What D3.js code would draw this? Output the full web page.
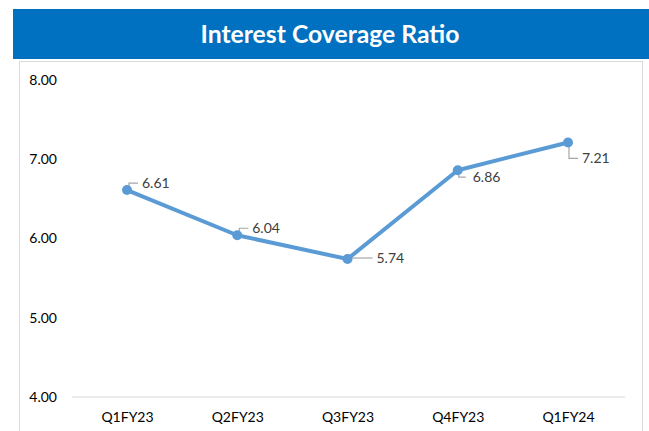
<!DOCTYPE html>
<html><head><meta charset="utf-8">
<script src="https://cdn.jsdelivr.net/npm/d3@7"></script>
<style>body{margin:0;background:#fff;}svg{display:block;font-family:Lato,"Open Sans",sans-serif;}</style>
</head><body>
<svg id="c" width="649" height="431"></svg>
<script>
const title = "Interest Coverage Ratio";
const categories = ["Q1FY23","Q2FY23","Q3FY23","Q4FY23","Q1FY24"];
const values = [6.61, 6.04, 5.74, 6.86, 7.21];
const yTicks = [4, 5, 6, 7, 8];
// label placement: "up" = leader up-right, "right" = straight, "down" = leader down-right
const labelPlacement = ["up","up","right","down","down"];

const svg = d3.select("#c");
svg.append("rect").attr("x",0).attr("y",0).attr("width",649).attr("height",431).attr("fill","#fff");
svg.append("rect").attr("x",13).attr("y",9).attr("width",636).attr("height",50).attr("fill","#0070c0");
const t = svg.append("text").attr("x",330).attr("y",43).attr("text-anchor","middle")
  .attr("fill","#fff").attr("font-weight","bold").attr("font-size",24).text(title);
const tw = t.node().getComputedTextLength();
t.attr("font-size", 24*259/tw);

svg.append("rect").attr("x",19.5).attr("y",61.5).attr("width",623).attr("height",380)
  .attr("fill","none").attr("stroke","#d9d9d9");

const x = d3.scalePoint().domain(categories).range([127, 568]);
const y = d3.scaleLinear().domain([4, 8]).range([397, 79.8]);

svg.append("line").attr("x1",72).attr("x2",625).attr("y1",y(4)).attr("y2",y(4))
  .attr("stroke","#d9d9d9").attr("stroke-width",1);

const yAxis = d3.axisLeft(y).tickValues(yTicks).tickFormat(d3.format(".2f")).tickSize(0).tickPadding(0);
const ga = svg.append("g").attr("transform","translate(57,0)").call(yAxis);
ga.select(".domain").remove();
ga.selectAll("text").attr("font-size",14).attr("fill","#000").attr("font-family","Lato");

const xAxis = d3.axisBottom(x).tickSize(0).tickPadding(0);
const gx = svg.append("g").attr("transform","translate(0,412)").call(xAxis);
gx.select(".domain").remove();
gx.selectAll("text").attr("font-size",14).attr("fill","#000").attr("font-family","Lato");

const data = categories.map((c,i)=>({c, v: values[i], p: labelPlacement[i]}));
svg.append("path").datum(data)
  .attr("d", d3.line().x(d=>x(d.c)).y(d=>y(d.v)))
  .attr("fill","none").attr("stroke","#5b9bd5").attr("stroke-width",4).attr("stroke-linejoin","round");

// leader lines
const lg = svg.append("g").attr("stroke","#a6a6a6").attr("fill","none").attr("stroke-width",1.2);
data.forEach(d=>{
  const px = x(d.c), py = y(d.v);
  let pts;
  if (d.p==="up") pts = [[px+2,py-3],[px+2,py-7],[px+11,py-7]];
  else if (d.p==="right") pts = [[px+4,py-1],[px+25,py-1]];
  else pts = [[px+1,py+3],[px+1,py+7+ (d.v>7?9:0)],[px+8+(d.v>7?2:0),py+7+(d.v>7?9:0)]];
  lg.append("path").attr("d", d3.line()(pts));
});

svg.selectAll("circle.m").data(data).join("circle").attr("class","m")
  .attr("cx",d=>x(d.c)).attr("cy",d=>y(d.v)).attr("r",5).attr("fill","#5b9bd5");

svg.selectAll("text.lbl").data(data).join("text").attr("class","lbl")
  .attr("x", d=> x(d.c) + (d.p==="up"?15:d.p==="right"?29:(d.v>7?14:15)))
  .attr("y", d=> y(d.v) + (d.p==="up"?-7:d.p==="right"?-1:(d.v>7?16:7)))
  .attr("dy","0.35em").attr("font-size",14).attr("fill","#404040").attr("font-family","Lato")
  .text(d=>d3.format(".2f")(d.v));
</script>
</body></html>
